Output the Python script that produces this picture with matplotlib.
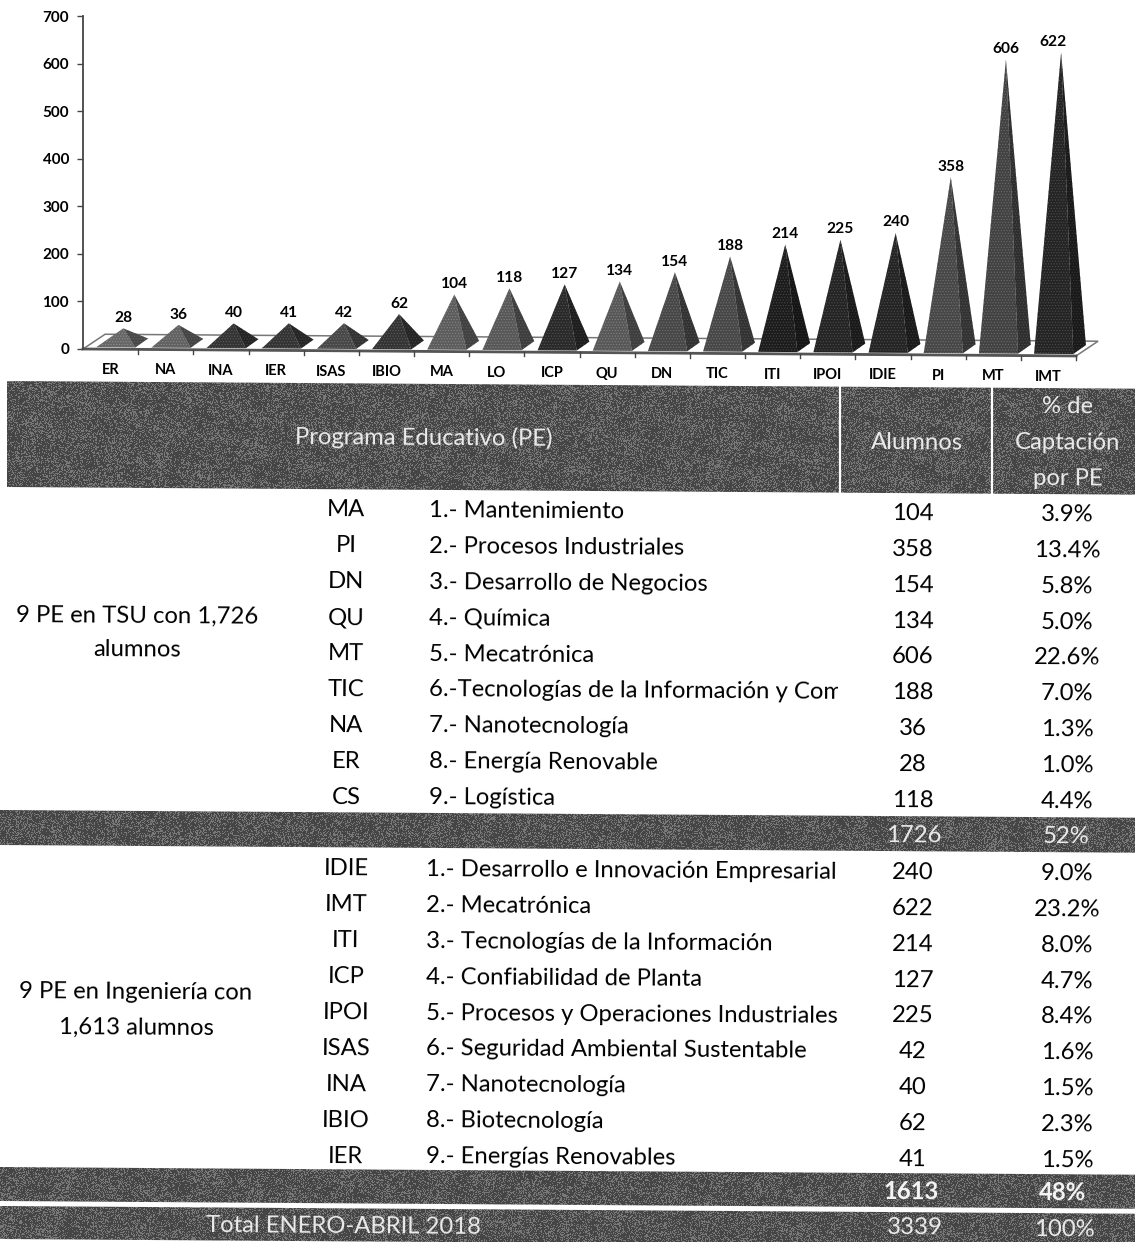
import numpy as np
import matplotlib; matplotlib.use("Agg")
import matplotlib.pyplot as plt
from matplotlib.patches import Polygon, Rectangle

plt.rcParams["font.family"] = ["Lato", "DejaVu Sans"]
plt.rcParams["hatch.linewidth"] = 0.5

# chart data
bar_labels = ["ER","NA","INA","IER","ISAS","IBIO","MA","LO","ICP","QU","DN","TIC","ITI","IPOI","IDIE","PI","MT","IMT"]
bar_values = [28,36,40,41,42,62,104,118,127,134,154,188,214,225,240,358,606,622]
bar_greys  = [.40,.38,.20,.20,.28,.20,.36,.34,.16,.34,.28,.28,.11,.14,.14,.28,.26,.14]
y_ticks = [0,100,200,300,400,500,600,700]

# table data
tsu_codes = ["MA","PI","DN","QU","MT","TIC","NA","ER","CS"]
tsu_names = ["1.- Mantenimiento","2.- Procesos Industriales","3.- Desarrollo de Negocios","4.- Química","5.- Mecatrónica",
             "6.-Tecnologías de la Información y Comu","7.- Nanotecnología","8.- Energía Renovable","9.- Logística"]
tsu_alumnos = [104,358,154,134,606,188,36,28,118]
tsu_pct = ["3.9%","13.4%","5.8%","5.0%","22.6%","7.0%","1.3%","1.0%","4.4%"]
ing_codes = ["IDIE","IMT","ITI","ICP","IPOI","ISAS","INA","IBIO","IER"]
ing_names = ["1.- Desarrollo e Innovación Empresarial","2.- Mecatrónica","3.- Tecnologías de la Información","4.- Confiabilidad de Planta",
             "5.- Procesos y Operaciones Industriales","6.- Seguridad Ambiental Sustentable","7.- Nanotecnología","8.- Biotecnología","9.- Energías Renovables"]
ing_alumnos = [240,622,214,127,225,42,40,62,41]
ing_pct = ["9.0%","23.2%","8.0%","4.7%","8.4%","1.6%","1.5%","2.3%","1.5%"]

W, H = 1135, 1242
SLOPE = 0.0068  # the scan is slightly rotated
ROT = -0.39
fig = plt.figure(figsize=(W/100, H/100), dpi=100, facecolor="white")

# ---- table layer, in pixels ----
tb = fig.add_axes([0,0,1,1]); tb.set_xlim(0,W); tb.set_ylim(H,0); tb.axis("off")
xx, yy = np.meshgrid(np.arange(W), np.arange(H))
# halftone speckle for the dark bands (texture only, no data in it)
speck = np.sin(xx*12.9898+yy*78.233)*43758.5453
speck = speck-np.floor(speck)
blotch = 0.05*np.sin(xx/23.0+yy/9.0)*np.cos(xx/11.0-yy/17.0)
grain = np.where(speck < 0.33+blotch*2, 0.47, 0.27)

def band(x0, x1, y0, h):
    dy = (x1-x0)*SLOPE
    im = tb.imshow(grain, cmap="gray", vmin=0, vmax=1, extent=(0,W,H,0), interpolation="nearest", aspect="auto")
    im.set_clip_path(Polygon([(x0,y0),(x1,y0+dy),(x1,y0+dy+h),(x0,y0+h)], closed=True, transform=tb.transData))

def txt(x, y, s, color="#000000", ha="center", size=17.2, **kw):
    return tb.text(x, y, s, color=color, ha=ha, va="center", fontsize=size, rotation=ROT, rotation_mode="anchor", **kw)

band(7, W, 381, 106)
band(0, W, 810, 35)
band(0, W, 1167, 34)
band(0, W, 1206, 33)
tb.set_xlim(0,W); tb.set_ylim(H,0)
for x in [840, 992]:
    tb.plot([x,x],[382,494], color="white", lw=1.6)

light = "#ececec"
txt(424,438,"Programa Educativo (PE)",light)
txt(917,443,"Alumnos",light)
txt(1068,407,"% de",light); txt(1068,443,"Captación",light); txt(1068,479,"por PE",light)
txt(137,616,"9 PE en TSU con 1,726"); txt(137,650,"alumnos")
txt(136,992,"9 PE en Ingeniería con"); txt(136,1028,"1,613 alumnos")

clip = Rectangle((0,0),838,H,transform=tb.transData)
for base, name_x, codes, names, alumnos, pct in [(506,429,tsu_codes,tsu_names,tsu_alumnos,tsu_pct),
                                                 (865,426,ing_codes,ing_names,ing_alumnos,ing_pct)]:
    for i in range(9):
        y = base + i*35.9
        txt(346, y+4, codes[i])
        t = txt(name_x, y+4.5, names[i], ha="left")
        t.set_clip_path(clip); t.set_clip_on(True)
        txt(913, y+7.5, str(alumnos[i]))
        txt(1067, y+8.5, pct[i])

txt(914,836,"1726",light); txt(1066,837,"52%",light)
txt(911,1192,"1613","#f6f6f6",fontweight="bold"); txt(1063,1193,"48%","#f6f6f6",fontweight="bold")
txt(343,1226,"Total ENERO-ABRIL 2018",light); txt(915,1228,"3339",light); txt(1064,1230,"100%",light)

# ---- chart layer, x in categories, y in value units ----
ax = fig.add_axes([83/W, 1-349/H, (1076-83)/W, (349-16)/H], facecolor="none")
ax.set_xlim(0,18); ax.set_ylim(0,700)
for s in ["top","right","bottom"]:
    ax.spines[s].set_visible(False)
ax.spines["left"].set_linewidth(1.3); ax.spines["left"].set_color("#444444")
ax.set_xticks([])
ax.set_yticks(y_ticks)
ax.tick_params(axis="y", length=4, width=1, color="#444444", pad=6)
for lab in ax.get_yticklabels():
    lab.set_fontsize(11); lab.set_fontweight("bold"); lab.set_color("#000000")

sk = 0.812           # drop of the floor per category, value units
depth = 31           # floor depth, value units
skew = lambda x: -sk*x
# floor
fl = [(0,skew(0)),(0.40,depth),(18.4,depth+skew(18)),(18,skew(18))]
ax.add_patch(Polygon(fl, closed=True, facecolor="white", edgecolor="#777777", lw=1.1, clip_on=False, zorder=1))
ax.plot([0,18],[skew(0),skew(18)], color="#555555", lw=2, clip_on=False, zorder=2)

for i, (lab, v, g) in enumerate(zip(bar_labels, bar_values, bar_greys)):
    fl_x, fr_x, br_x = i+.24, i+.95, i+1.18
    ap_x = i+.73
    front = 4
    ap = (ap_x, v+16+skew(ap_x))
    a, b, c = (fl_x, front+skew(fl_x)), (fr_x, front+skew(fr_x)), (br_x, 23+skew(br_x))
    ax.add_patch(Polygon([a,b,ap], closed=True, facecolor=str(g), edgecolor=str(g+.16), hatch="......", lw=0, clip_on=False, zorder=3))
    ax.add_patch(Polygon([b,c,ap], closed=True, facecolor=str(g*.7), edgecolor=str(g*.7+.12), hatch="......", lw=0, clip_on=False, zorder=3))
    # value label above the apex, category label under the floor
    lx = ap_x-.14 if lab=="IMT" else ap_x
    ax.annotate(str(v), (lx, ap[1]), xytext=(0,7.5), textcoords="offset points", ha="center", va="center",
                fontsize=11.2, fontweight="bold", color="#000000", annotation_clip=False, zorder=4)
    ax.annotate(lab, (i+.5, skew(i+.5)), xytext=(0,-15), textcoords="offset points", ha="center", va="center",
                fontsize=10.5, fontweight="bold", color="#000000", annotation_clip=False)
    ax.plot([i+1,i+1],[skew(i+1),skew(i+1)-9], color="#444444", lw=1, clip_on=False)

fig.savefig("out.png", dpi=100)
